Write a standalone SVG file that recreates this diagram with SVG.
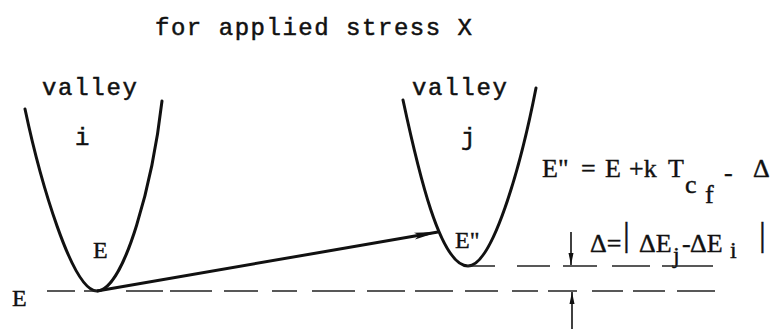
<svg xmlns="http://www.w3.org/2000/svg" width="773" height="329" viewBox="0 0 773 329">
<style>
.curve{fill:none;stroke:#111;stroke-width:3;stroke-linecap:round}
.dash{fill:none;stroke:#222;stroke-width:1.4}
.thin{fill:none;stroke:#111;stroke-width:1.6}
</style>
<defs>
<marker id="head" viewBox="0 0 24 8" refX="24" refY="4" markerWidth="24" markerHeight="8" markerUnits="userSpaceOnUse" orient="auto">
<path d="M0,0.5 L24,4 L0,7.5 L5,4 Z" fill="#111"/>
</marker>
<marker id="small" viewBox="0 0 12 6" refX="12" refY="3" markerWidth="12" markerHeight="6" markerUnits="userSpaceOnUse" orient="auto">
<path d="M0,0.5 L12,3 L0,5.5 Z" fill="#111"/>
</marker>
</defs>
<rect width="773" height="329" fill="#fff"/>
<g id="title" font-family="'Liberation Mono', 'Courier New', monospace" font-size="24" fill="#111" stroke="#111" stroke-width="0.5">
<text x="155" y="35" textLength="317" lengthAdjust="spacing">for applied stress X</text>
</g>
<g id="valley-i" fill="#111">
<path class="curve" d="M25,109 C40,180 72,291 97,291 C125,290 153,180 162,101"/>
<g font-family="'Liberation Mono', 'Courier New', monospace" font-size="24" stroke="#111" stroke-width="0.5">
<text x="42" y="95" textLength="95" lengthAdjust="spacing">valley</text>
<text x="75" y="145">i</text>
</g>
<text x="93" y="258" font-family="'Liberation Serif', 'Times New Roman', serif" font-size="24" stroke="#111" stroke-width="0.4">E</text>
</g>
<g id="valley-j" fill="#111">
<path class="curve" d="M403,100 C418,170 440,266 468,266 C492,266 520,170 536,88"/>
<g font-family="'Liberation Mono', 'Courier New', monospace" font-size="24" stroke="#111" stroke-width="0.5">
<text x="412" y="95" textLength="95" lengthAdjust="spacing">valley</text>
<text x="461" y="145">j</text>
</g>
<text x="455" y="248" font-family="'Liberation Serif', 'Times New Roman', serif" font-size="24" stroke="#111" stroke-width="0.4">E&quot;</text>
</g>
<g id="level-E" fill="#111" font-family="'Liberation Serif', 'Times New Roman', serif" font-size="24" stroke="#111" stroke-width="0.4">
<text x="12" y="306">E</text>
</g>
<g id="formula1" fill="#111" font-family="'Liberation Serif', 'Times New Roman', serif" font-size="26" stroke="#111" stroke-width="0.4">
<text x="542" y="177">E&quot;</text>
<text x="581" y="177">=</text>
<text x="605" y="177">E</text>
<text x="629" y="177">+k</text>
<text x="668" y="177">T</text>
<text x="685" y="193">c</text>
<text x="705" y="203">f</text>
<text x="724" y="181">-</text>
<text x="753" y="177">Δ</text>
</g>
<g id="formula2" fill="#111" font-family="'Liberation Serif', 'Times New Roman', serif" font-size="26" stroke="#111" stroke-width="0.4">
<text x="590" y="252">Δ=</text>
<text x="623" y="246" font-size="34">|</text>
<text x="639" y="252">ΔE</text>
<text x="673" y="263" font-size="24">j</text>
<text x="682" y="252">-</text>
<text x="690" y="252">ΔE</text>
<text x="730" y="258" font-size="24">i</text>
<text x="759" y="246" font-size="34">|</text>
</g>
<g id="connectors">
<path class="dash" d="M47,291 H75 M84,291 H97 M126,291 H163 M170,291 H212 M224,291 H258 M272,291 H297 M312,291 H355 M367,291 H405 M415,291 H453 M465,291 H498 M512,291 H538 M548,291 H577 M592,291 H623 M633,291 H665 M677,291 H715"/>
<path class="dash" d="M467,266 H495 M517,266 H550 M563,266 H597 M612,266 H650 M662,266 H713"/>
<line x1="97" y1="291" x2="438" y2="232" stroke="#111" stroke-width="3" marker-end="url(#head)"/>
<line class="thin" x1="571" y1="232" x2="571" y2="265" marker-end="url(#small)"/>
<line class="thin" x1="572" y1="329" x2="572" y2="292" marker-end="url(#small)"/>
</g>
</svg>
